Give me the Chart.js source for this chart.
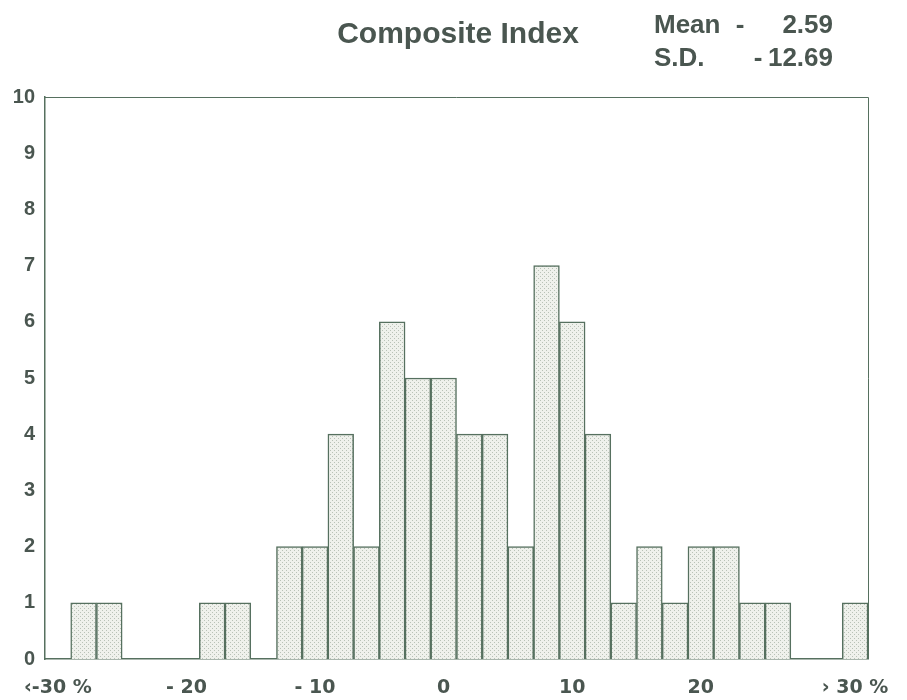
<!DOCTYPE html>
<html>
<head>
<meta charset="utf-8">
<script src="https://cdn.jsdelivr.net/npm/chart.js@4/dist/chart.umd.min.js"></script>
<style>
  html, body { margin: 0; padding: 0; background: #fff; }
  #wrap { width: 907px; height: 700px; }
</style>
</head>
<body>
<div id="wrap"><canvas id="hist" width="907" height="700"></canvas></div>
<script>
// histogram bins (2-point wide), outer bins are the open-ended tails
const bins = ['<-30', '-28', '-26', '-24', '-22', '-20', '-18', '-16', '-14', '-12',
  '-10', '-8', '-6', '-4', '-2', '0', '2', '4', '6', '8',
  '10', '12', '14', '16', '18', '20', '22', '24', '26', '28', '30', '>30'];
const counts = [0, 1, 1, 0, 0, 0, 1, 1, 0, 2,
  2, 4, 2, 6, 5, 5, 4, 4, 2, 7,
  6, 4, 1, 2, 1, 2, 2, 1, 1, 0, 0, 1];
// only a few bins carry a printed label
const tickText = ['‹-30 %', '', '', '', '', '- 20', '', '', '', '',
  '- 10', '', '', '', '', '0', '', '', '', '',
  '10', '', '', '', '', '20', '', '', '', '', '', '› 30 %'];
const yTicks = [0, 1, 2, 3, 4, 5, 6, 7, 8, 9, 10];
const title = 'Composite Index';
const stats = [['Mean', '-', '2.59'], ['S.D.', '-', '12.69']];

const INK = '#4a5650';
const LINE = '#56705f';
const FONT = '"Liberation Sans", Arial, Helvetica, sans-serif';
const WIDE = '"DejaVu Sans", Verdana, sans-serif';

// light stipple fill like the printed bars
function stipple() {
  const c = document.createElement('canvas');
  c.width = 4; c.height = 4;
  const g = c.getContext('2d');
  g.fillStyle = '#eff1ec';
  g.fillRect(0, 0, 4, 4);
  g.fillStyle = '#b9c2b7';
  g.fillRect(0, 0, 1, 1);
  g.fillRect(2, 2, 1, 1);
  return g.createPattern(c, 'repeat');
}

// header text + frame around the plot
const decor = {
  id: 'decor',
  afterDraw(chart) {
    const { ctx, chartArea: a } = chart;
    ctx.save();
    ctx.strokeStyle = LINE;
    ctx.lineWidth = 1;
    ctx.beginPath();
    ctx.moveTo(a.left, a.top + 0.5);
    ctx.lineTo(a.right + 0.5, a.top + 0.5);
    ctx.lineTo(a.right + 0.5, a.bottom);
    ctx.stroke();

    ctx.fillStyle = INK;
    ctx.textBaseline = 'alphabetic';
    ctx.font = `bold 30px ${FONT}`;
    ctx.textAlign = 'center';
    ctx.fillText(title, 458, 43);

    ctx.font = `bold 26px ${FONT}`;
    const dashX = [740, 758];
    stats.forEach((row, i) => {
      const y = 33 + i * 33;
      ctx.textAlign = 'left';
      ctx.fillText(row[0], 654, y);
      ctx.textAlign = 'center';
      ctx.fillText(row[1], dashX[i], y);
      ctx.textAlign = 'right';
      ctx.fillText(row[2], 833, y);
    });
    ctx.restore();
  }
};

new Chart(document.getElementById('hist'), {
  type: 'bar',
  data: {
    labels: bins,
    datasets: [{
      data: counts,
      backgroundColor: stipple(),
      borderColor: LINE,
      borderWidth: 1.5,
      borderSkipped: 'bottom',
      barPercentage: 1,
      categoryPercentage: 1
    }]
  },
  options: {
    responsive: false,
    animation: false,
    layout: { padding: { top: 97, right: 39, left: 0, bottom: 0 } },
    plugins: { legend: { display: false }, tooltip: { enabled: false } },
    scales: {
      x: {
        grid: { display: false },
        border: { display: true, color: LINE, width: 1.5 },
        afterFit: s => { s.height = 41; s.paddingLeft = 0; s.paddingRight = 0; },
        ticks: {
          autoSkip: false, maxRotation: 0, minRotation: 0,
          color: INK, padding: 10,
          font: { family: WIDE, size: 19, weight: 'bold' },
          callback: (v, i) => tickText[i]
        }
      },
      y: {
        min: yTicks[0], max: yTicks[yTicks.length - 1],
        afterBuildTicks: s => { s.ticks = yTicks.map(v => ({ value: v })); },
        afterFit: s => { s.width = 45; s.paddingTop = 0; s.paddingBottom = 0; },
        grid: { display: false },
        border: { display: true, color: LINE, width: 1.5 },
        ticks: {
          color: INK, padding: 2,
          font: { family: FONT, size: 20, weight: 'bold' }
        }
      }
    }
  },
  plugins: [decor]
});
</script>
</body>
</html>
